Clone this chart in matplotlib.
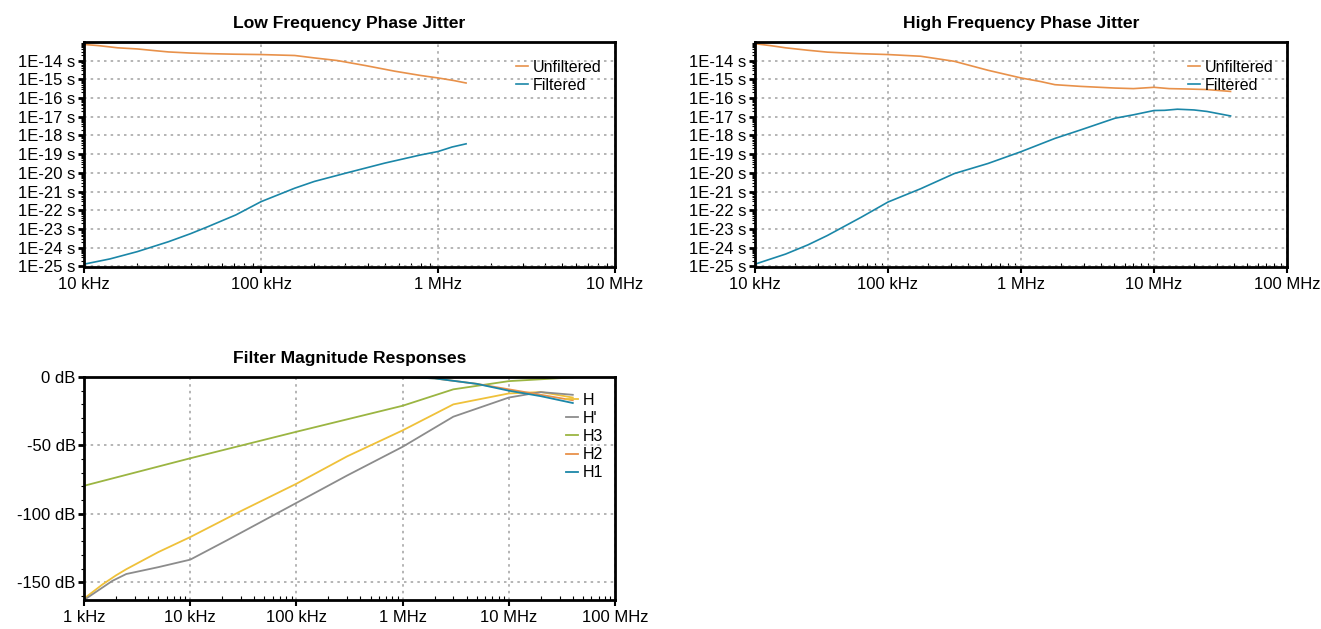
import numpy as np
import matplotlib
matplotlib.use("Agg")
import matplotlib.pyplot as plt
from matplotlib.ticker import FixedLocator, LogLocator, MultipleLocator, NullFormatter

plt.rcParams["font.family"] = ["Liberation Sans", "DejaVu Sans"]

# Low frequency phase jitter (freq in Hz, log10 of jitter in s)
lf_unf_freq = [1.0e4, 1.2e4, 1.55e4, 2.0e4, 2.5e4, 3.0e4, 4.0e4, 5.0e4, 7.0e4, 1.0e5, 1.55e5, 2.0e5,
               2.7e5, 3.9e5, 5.7e5, 8.0e5, 1.0e6, 1.23e6, 1.44e6]
lf_unf_log = [-13.14, -13.2, -13.32, -13.38, -13.47, -13.54, -13.6, -13.63, -13.66, -13.68, -13.73, -13.86,
              -14.0, -14.27, -14.57, -14.8, -14.93, -15.07, -15.2]
lf_filt_freq = [1.0e4, 1.4e4, 2.0e4, 3.0e4, 4.0e4, 5.0e4, 7.2e4, 1.0e5, 1.55e5, 2.0e5, 3.0e5, 5.0e5,
                8.0e5, 1.0e6, 1.2e6, 1.44e6]
lf_filt_log = [-24.88, -24.6, -24.21, -23.68, -23.25, -22.88, -22.25, -21.54, -20.82, -20.46, -20.02, -19.48,
               -19.04, -18.86, -18.62, -18.45]

# High frequency phase jitter
hf_unf_freq = [1.0e4, 1.3e4, 1.7e4, 2.5e4, 3.5e4, 6.0e4, 1.0e5, 1.76e5, 3.15e5, 5.65e5, 1.0e6, 1.4e6,
               1.8e6, 2.8e6, 5.1e6, 7.0e6, 1.0e7, 1.3e7, 1.77e7, 2.5e7, 3.76e7]
hf_unf_log = [-13.1, -13.2, -13.32, -13.45, -13.55, -13.63, -13.68, -13.77, -14.04, -14.52, -14.93, -15.12,
              -15.29, -15.38, -15.47, -15.5, -15.43, -15.5, -15.52, -15.55, -15.65]
hf_filt_freq = [1.0e4, 1.7e4, 2.5e4, 3.5e4, 6.3e4, 1.0e5, 1.76e5, 3.15e5, 5.65e5, 1.0e6, 1.8e6, 2.8e6,
                5.1e6, 7.0e6, 1.0e7, 1.2e7, 1.5e7, 2.0e7, 2.5e7, 3.76e7]
hf_filt_log = [-24.88, -24.34, -23.85, -23.35, -22.37, -21.56, -20.85, -20.04, -19.5, -18.87, -18.16, -17.71,
               -17.08, -16.9, -16.67, -16.66, -16.6, -16.64, -16.72, -16.96]

# Filter magnitude responses (dB)
h_freq = [1e3, 1.5e3, 2e3, 2.5e3, 5e3, 1e4, 3e4, 1e5, 3e5, 1e6, 3e6, 1e7, 2e7, 4e7]
h_db = [-162, -151.5, -145, -140.5, -128, -117, -98, -78, -58, -39, -20, -12, -11, -15]
hp_freq = [1e3, 1.85e3, 2.5e3, 5e3, 1e4, 2.2e4, 1e5, 3e5, 1e6, 3e6, 1e7, 2e7, 4e7]
hp_db = [-163, -149, -144, -139, -133.5, -119.5, -92, -72, -51, -29, -15, -11, -13]
h3_freq = [1e3, 1e4, 1e5, 1e6, 3e6, 1e7, 4e7]
h3_db = [-79.5, -59.4, -40, -21, -9, -3, -0.3]
h2_freq = [1e3, 1e6, 2e6, 5e6, 1e7, 2e7, 4e7]
h2_db = [0, 0, -1, -5, -9, -13, -17]
h1_freq = [1e3, 1e6, 2e6, 5e6, 1e7, 2e7, 4e7]
h1_db = [0, 0, -1, -5, -10, -14, -19]

ORANGE = "#E8914A"
TEAL = "#1B87A8"
YELLOW = "#EFC13A"
GRAY = "#8C8C8C"
GREEN = "#9BB542"


def freq_label(f):
    if f >= 1e6:
        return f"{int(f / 1e6)} MHz"
    return f"{int(f / 1e3)} kHz"


def style_axes(ax, xticks):
    ax.set_xscale("log")
    ax.set_xlim(xticks[0], xticks[-1])
    ax.set_xticks(xticks)
    ax.set_xticklabels([freq_label(f) for f in xticks])
    ax.xaxis.set_minor_locator(LogLocator(base=10, subs=np.arange(2, 10)))
    ax.xaxis.set_minor_formatter(NullFormatter())
    ax.tick_params(axis="x", which="major", direction="out", length=4, width=1.5, labelsize=12, pad=3)
    ax.tick_params(axis="x", which="minor", direction="in", length=3, width=0.8)
    ax.tick_params(axis="y", which="major", direction="out", length=4, width=2, labelsize=12, pad=2)
    ax.tick_params(axis="y", which="minor", direction="out", length=2, width=0.8)
    ax.grid(True, which="major", linestyle=(0, (1.5, 2.5)), color="#a8a8a8", linewidth=1.2)
    for sp in ax.spines.values():
        sp.set_linewidth(2)
        sp.set_color("black")


def jitter_panel(ax, title, xticks, unf_f, unf_l, filt_f, filt_l):
    ax.plot(unf_f, 10.0 ** np.array(unf_l), color=ORANGE, lw=1.2, label="Unfiltered")
    ax.plot(filt_f, 10.0 ** np.array(filt_l), color=TEAL, lw=1.2, label="Filtered")
    ax.set_yscale("log")
    style_axes(ax, xticks)
    ax.set_ylim(0.93e-25, 1e-13)
    exps = list(range(-25, -13))
    ax.yaxis.set_major_locator(FixedLocator([10.0 ** e for e in exps]))
    ax.set_yticklabels([f"1E{e} s" for e in exps])
    ax.yaxis.set_minor_locator(LogLocator(base=10, subs=np.arange(2, 10), numticks=30))
    ax.yaxis.set_minor_formatter(NullFormatter())
    ax.set_title(title, fontsize=12.6, fontweight="bold", pad=10)
    ax.legend(loc="upper right", bbox_to_anchor=(0.995, 0.97), frameon=False, fontsize=11.5,
              handlelength=0.8, handletextpad=0.25, labelspacing=0.2, borderpad=0.2)


fig = plt.figure(figsize=(13.21, 6.29), dpi=100)
ax1 = fig.add_axes([0.0636, 0.5755, 0.402, 0.358])
ax2 = fig.add_axes([0.5715, 0.5755, 0.4028, 0.358])
ax3 = fig.add_axes([0.0636, 0.0461, 0.402, 0.3545])

jitter_panel(ax1, "Low Frequency Phase Jitter", [1e4, 1e5, 1e6, 1e7],
             lf_unf_freq, lf_unf_log, lf_filt_freq, lf_filt_log)
jitter_panel(ax2, "High Frequency Phase Jitter", [1e4, 1e5, 1e6, 1e7, 1e8],
             hf_unf_freq, hf_unf_log, hf_filt_freq, hf_filt_log)

# filter responses
ax3.plot(h_freq, h_db, color=YELLOW, lw=1.3, label="H")
ax3.plot(hp_freq, hp_db, color=GRAY, lw=1.3, label="H'")
ax3.plot(h3_freq, h3_db, color=GREEN, lw=1.3, label="H3")
ax3.plot(h2_freq, h2_db, color=ORANGE, lw=1.3, label="H2")
ax3.plot(h1_freq, h1_db, color=TEAL, lw=1.3, label="H1")
style_axes(ax3, [1e3, 1e4, 1e5, 1e6, 1e7, 1e8])
ax3.set_ylim(-163, 0)
ax3.set_yticks([0, -50, -100, -150])
ax3.set_yticklabels(["0 dB", "-50 dB", "-100 dB", "-150 dB"])
ax3.yaxis.set_minor_locator(MultipleLocator(10))
ax3.set_title("Filter Magnitude Responses", fontsize=12.6, fontweight="bold", pad=10)
ax3.legend(loc="upper right", bbox_to_anchor=(0.998, 0.98), frameon=False, fontsize=11.5,
           handlelength=0.8, handletextpad=0.25, labelspacing=0.2, borderpad=0.2)

fig.savefig("out.png", dpi=100)
